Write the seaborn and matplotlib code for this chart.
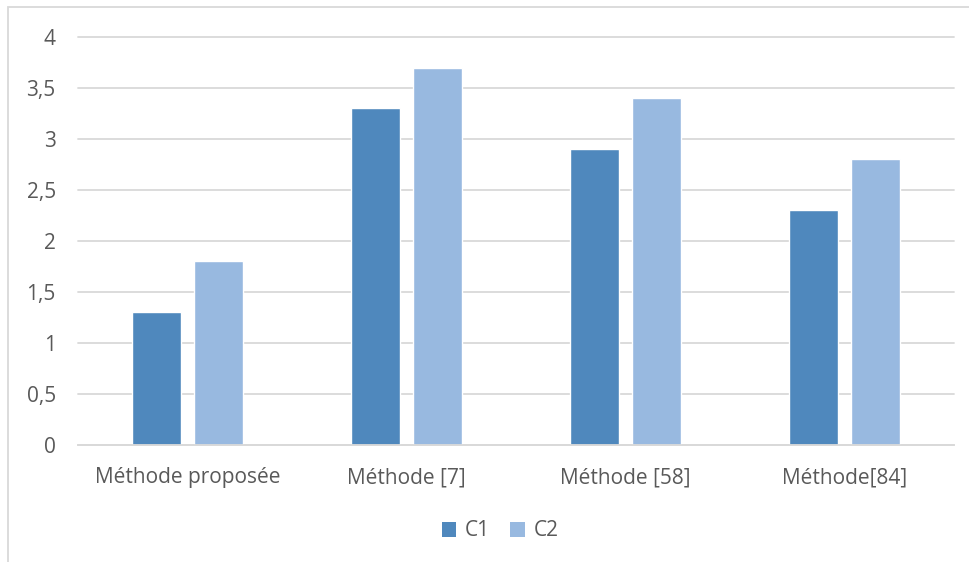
import matplotlib
matplotlib.use("Agg")
import matplotlib.pyplot as plt
import seaborn as sns
import pandas as pd
from matplotlib.patches import Rectangle, Patch

methods = ["Méthode proposée", "Méthode [7]", "Méthode [58]", "Méthode[84]"]
c1_values = [1.3, 3.3, 2.9, 2.3]
c2_values = [1.8, 3.7, 3.4, 2.8]
series_names = ["C1", "C2"]
y_ticks = [0, 0.5, 1, 1.5, 2, 2.5, 3, 3.5, 4]
y_tick_labels = ["0", "0,5", "1", "1,5", "2", "2,5", "3", "3,5", "4"]

df = pd.DataFrame({
    "method": methods * 2,
    "value": c1_values + c2_values,
    "series": [series_names[0]] * len(methods) + [series_names[1]] * len(methods),
})

sns.set_theme(style="white")
plt.rcParams["font.family"] = ["Open Sans", "DejaVu Sans"]

text_color = "#595959"
grid_color = "#d9d9d9"
palette = {"C1": "#4f88bd", "C2": "#98b9e0"}
font_size = 15

fig = plt.figure(figsize=(9.69, 5.62), dpi=100)
ax = fig.add_axes([78 / 969, 1 - 445 / 562, (954 - 78) / 969, (445 - 37) / 562])

sns.barplot(data=df, x="method", y="value", hue="series", order=methods,
            hue_order=series_names, palette=palette, width=0.566, gap=0.21,
            saturation=1, ax=ax, legend=False, errorbar=None)

ax.set_ylim(0, 4)
ax.set_xlim(-0.5, len(methods) - 0.5)
ax.set_yticks(y_ticks)
ax.set_yticklabels(y_tick_labels)
ax.yaxis.grid(True, color=grid_color, linewidth=1.3)
ax.set_axisbelow(True)
for side in ["top", "right", "left"]:
    ax.spines[side].set_visible(False)
ax.spines["bottom"].set_color(grid_color)
ax.spines["bottom"].set_linewidth(1.3)
ax.set_xlabel("")
ax.set_ylabel("")
ax.tick_params(axis="both", length=0, labelsize=font_size, colors=text_color)
ax.tick_params(axis="y", pad=16)
ax.tick_params(axis="x", pad=16)
for line in ax.get_ygridlines():
    line.set_clip_on(False)

# chart frame
fig.patches.append(Rectangle((8 / 969, -0.01), 1.0, 1 - 7 / 562 + 0.01,
                             transform=fig.transFigure, fill=False,
                             edgecolor="#d9d9d9", linewidth=1.3))

handles = [Patch(facecolor=palette[s], edgecolor="none", label=s) for s in series_names]
fig.legend(handles=handles, loc="center", bbox_to_anchor=(500 / 969, 1 - 531 / 562),
           ncol=2, frameon=False, fontsize=font_size, labelcolor=text_color,
           handlelength=0.7, handleheight=0.7, handletextpad=0.4, columnspacing=1.0)

fig.savefig("out.png", dpi=100)
